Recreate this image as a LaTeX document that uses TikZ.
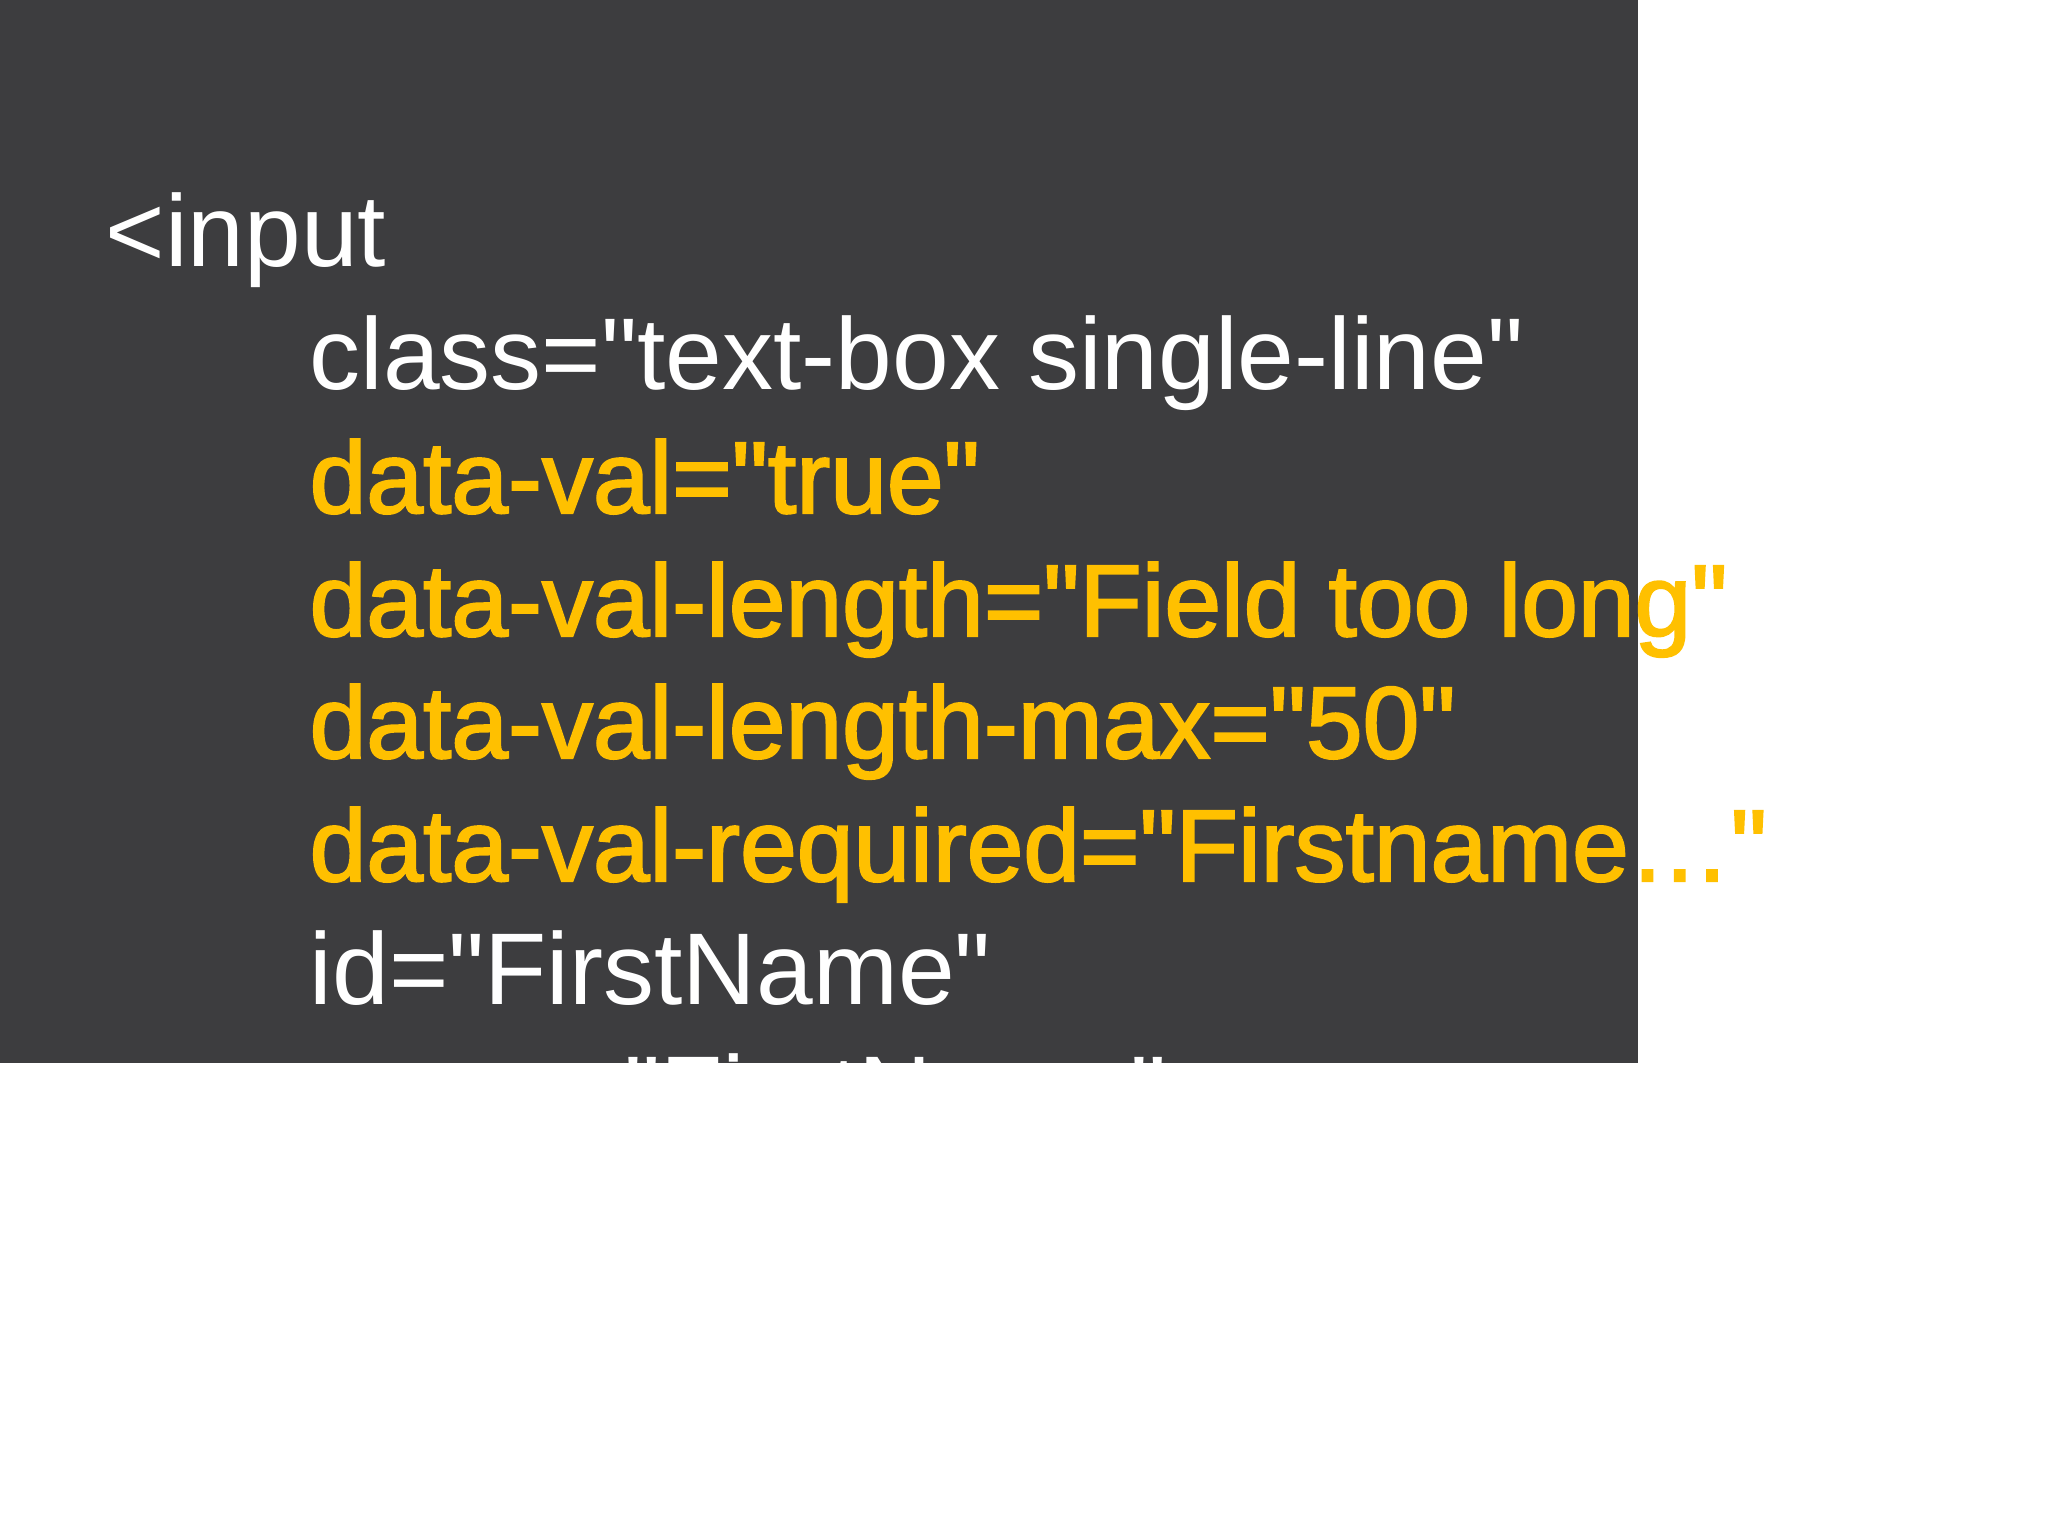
\documentclass[tikz,border=0pt]{standalone}
\usepackage{fontspec}
\newfontfamily\plainsans{Liberation Sans}
\newfontfamily\boldish[FakeBold=2]{Liberation Sans}
\definecolor{slate}{HTML}{3D3D3F}
\definecolor{gold}{HTML}{FFC000}

\begin{document}
\begin{tikzpicture}[font=\fontsize{29}{35}\selectfont\plainsans]
\tikzset{code/.style={anchor=base west, inner sep=0pt, text=white},
         attr/.style={code, text=gold, font=\fontsize{29}{35}\selectfont\boldish}}
\useasboundingbox (0,0) rectangle (20.48,-15.36);

\fill[slate] (0,0) rectangle (16.38,-10.63);

\node[code] (tag) at (1.05,-2.67) {<input};
\node[code] (cls) at (3.09,-3.90) {class="text-box single-line"};
\node[attr] (val) at (3.09,-5.13) {data-val="true"};
\node[attr] (len) at (3.09,-6.36) {data-val-length="Field too long"};
\node[attr] (max) at (3.09,-7.58) {data-val-length-max="50"};
\node[attr] (req) at (3.09,-8.81) {data-val-required="Firstname…"};
\node[code] (id) at (3.09,-10.04) {id="FirstName"};
\node[code] (nm) at (3.09,-11.27) {name="FirstName"};

\end{tikzpicture}
\end{document}
